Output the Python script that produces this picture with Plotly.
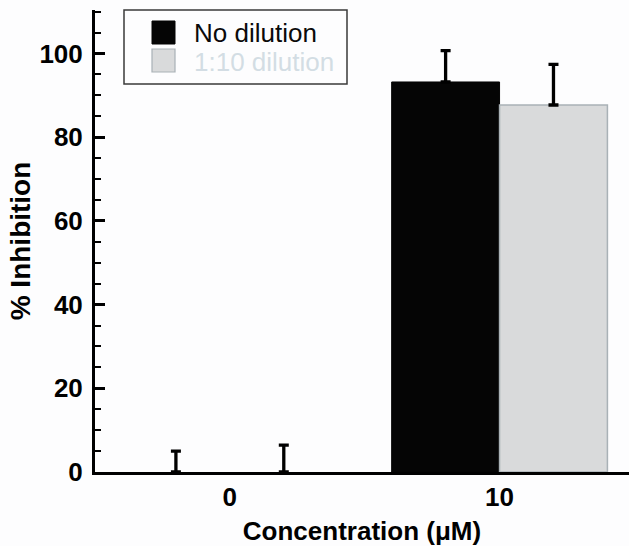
import plotly.graph_objects as go

# ---- data ----
categories = ["0", "10"]
no_dilution = [0.0, 93.2]
no_dilution_err = [5.0, 7.5]
dilution = [0.0, 87.7]
dilution_err = [6.4, 9.7]
series_names = ["No dilution", "1:10 dilution"]
y_ticks = [0, 20, 40, 60, 80, 100]

W, H = 629, 546
ML, MR, MT, MB = 95, 0, 10, 74
FONT = "Liberation Sans, Arial, Helvetica, sans-serif"

fig = go.Figure()
fig.add_trace(go.Bar(
    x=categories, y=no_dilution, name=series_names[0],
    marker=dict(color="#050505", line=dict(color="#050505", width=[0, 1])),
    error_y=dict(type="data", array=no_dilution_err, arrayminus=[0, 0], symmetric=False,
                 color="#000000", thickness=3.3, width=5),
    showlegend=False,
))
fig.add_trace(go.Bar(
    x=categories, y=dilution, name=series_names[1],
    marker=dict(color="#d9dadb", line=dict(color="#a9b1b6", width=[0, 1.5])),
    error_y=dict(type="data", array=dilution_err, arrayminus=[0, 0], symmetric=False,
                 color="#000000", thickness=3.3, width=5),
    showlegend=False,
))

# helper to convert pixel coordinates to paper coords (layout only)
pw = W - ML - MR
ph = H - MT - MB
def px(x):
    return (x - ML) / pw
def py(y):
    return (H - MB - y) / ph

shapes = [
    dict(type="rect", xref="paper", yref="paper", x0=px(124), x1=px(347), y0=py(84), y1=py(10),
         line=dict(color="#3a3a3a", width=1.5), fillcolor="rgba(0,0,0,0)"),
    dict(type="rect", xref="paper", yref="paper", x0=px(152), x1=px(175), y0=py(44), y1=py(21),
         line=dict(color="#050505", width=1), fillcolor="#050505"),
    dict(type="rect", xref="paper", yref="paper", x0=px(152), x1=px(175), y0=py(72), y1=py(49),
         line=dict(color="#a9b1b6", width=1.2), fillcolor="#d9dadb"),
]
annotations = [
    dict(xref="paper", yref="paper", x=px(192), y=py(33.5), text=series_names[0], showarrow=False,
         xanchor="left", yanchor="middle", font=dict(family=FONT, size=26, color="#0a0a0a")),
    dict(xref="paper", yref="paper", x=px(192), y=py(61.5), text=series_names[1], showarrow=False,
         xanchor="left", yanchor="middle", font=dict(family=FONT, size=26, color="#d3dde4")),
]

fig.update_layout(
    width=W, height=H,
    margin=dict(l=ML, r=MR, t=MT, b=MB),
    paper_bgcolor="#fdfdfe", plot_bgcolor="#fdfdfe",
    barmode="group", bargap=0.2, bargroupgap=0,
    font=dict(family=FONT, size=26, color="#000000"),
    shapes=shapes, annotations=annotations,
    xaxis=dict(
        type="category", range=[-0.5, 1.48],
        showline=True, linecolor="#000000", linewidth=3,
        ticks="", showgrid=False, zeroline=False,
        tickfont=dict(family=FONT, size=26, weight="bold"),
        title=dict(text="Concentration (μM)", font=dict(family=FONT, size=26, weight="bold"), standoff=14),
    ),
    yaxis=dict(
        range=[0, 110.4],
        tickvals=y_ticks,
        showline=True, linecolor="#000000", linewidth=3,
        ticks="inside", ticklen=10, tickwidth=3, tickcolor="#000000",
        minor=dict(dtick=5, ticks="inside", ticklen=6, tickwidth=2, tickcolor="#000000"),
        showgrid=False, zeroline=False,
        tickfont=dict(family=FONT, size=26, weight="bold"),
        ticklabelstandoff=4,
        title=dict(text="% Inhibition", font=dict(family=FONT, size=28, weight="bold"), standoff=1),
    ),
)

fig.write_html("out.html", config={"displayModeBar": False},
               post_script="document.body.style.margin='0';document.body.style.background='#fdfdfe';")
